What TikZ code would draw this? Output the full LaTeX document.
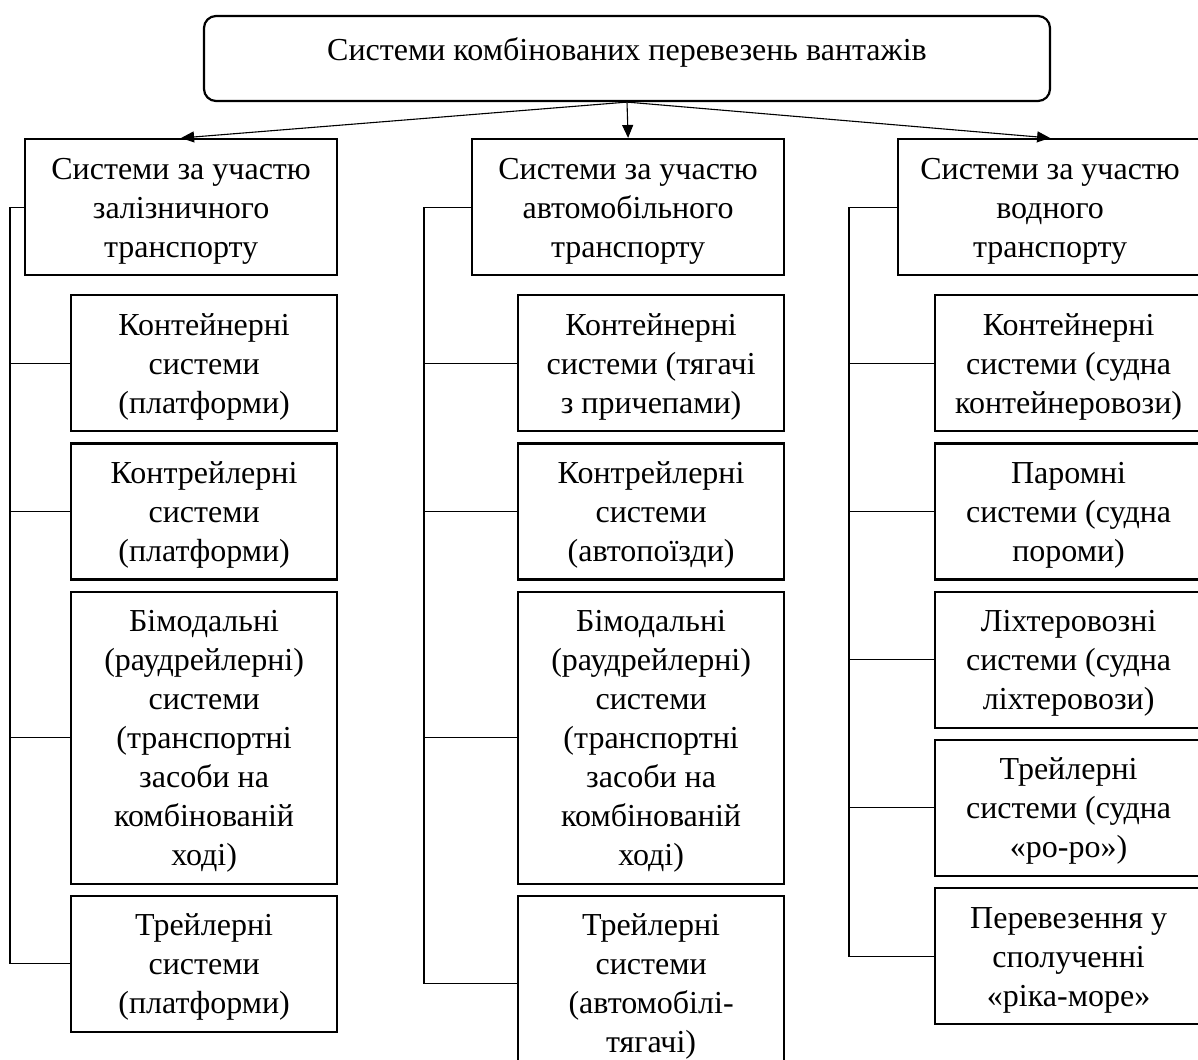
\documentclass[tikz,border=0pt]{standalone}
\usepackage{fontspec}
\setmainfont{Liberation Serif}
\usetikzlibrary{arrows.meta,positioning}
\newcommand\colstrut{\rule[-8.5pt]{0pt}{39pt}}

\begin{document}
\begin{tikzpicture}[
    x=1pt,
    y=-1pt,
    node distance=10pt,
    every node/.style={font=\fontsize{32}{39}\selectfont},
    topbox/.style={
        draw,
        line width=2.2pt,
        rounded corners=12pt,
        minimum width=846pt,
        inner ysep=0pt,
        text height=45pt,
        text depth=40pt
    },
    box/.style={
        draw,
        line width=2.2pt,
        align=flush center,
        inner xsep=4pt,
        inner ysep=9.5pt,
        execute at begin node=\colstrut,
        execute at end node=\colstrut
    },
    head/.style={
        box,
        minimum width=312pt,
        text width=304pt
    },
    sub/.style={
        box,
        minimum width=266pt,
        text width=258pt
    },
    arrow/.style={
        -{Triangle[length=13pt,width=11pt]},
        line width=1.1pt
    },
    link/.style={
        line width=1.1pt
    }
]
\useasboundingbox (0,0) rectangle (1198,1059);

% Top block
\node[topbox] (sys) at (627,58.5)
{Системи комбінованих перевезень вантажів};

% Column headers
\node[head, anchor=north west] (railh) at (24,138)
{Системи за участю\\залізничного\\транспорту};

\node[head, anchor=north west] (roadh) at (471,138)
{Системи за участю\\автомобільного\\транспорту};

\node[head, anchor=north west, minimum width=304pt, text width=296pt] (waterh) at (897,138)
{Системи за участю\\водного\\транспорту};

% Railway systems
\node[sub, below=18pt of railh.south east, anchor=north east] (rail1)
{Контейнерні\\системи\\(платформи)};

\node[sub, below=of rail1] (rail2)
{Контрейлерні\\системи\\(платформи)};

\node[sub, below=of rail2] (rail3)
{Бімодальні\\(раудрейлерні)\\системи\\(транспортні\\засоби на\\комбінованій\\ході)};

\node[sub, below=of rail3] (rail4)
{Трейлерні\\системи\\(платформи)};

% Road systems
\node[sub, below=18pt of roadh.south east, anchor=north east] (road1)
{Контейнерні\\системи (тягачі\\з причепами)};

\node[sub, below=of road1] (road2)
{Контрейлерні\\системи\\(автопоїзди)};

\node[sub, below=of road2] (road3)
{Бімодальні\\(раудрейлерні)\\системи\\(транспортні\\засоби на\\комбінованій\\ході)};

\node[sub, below=of road3] (road4)
{Трейлерні\\системи\\(автомобілі-\\тягачі)};

% Water systems
\node[sub, below=18pt of waterh.south east, anchor=north east, minimum width=267pt, text width=259pt] (water1)
{Контейнерні\\системи (судна\\контейнеровози)};

\node[sub, below=of water1, minimum width=267pt, text width=259pt] (water2)
{Паромні\\системи (судна\\пороми)};

\node[sub, below=of water2, minimum width=267pt, text width=259pt] (water3)
{Ліхтеровозні\\системи (судна\\ліхтеровози)};

\node[sub, below=of water3, minimum width=267pt, text width=259pt] (water4)
{Трейлерні\\системи (судна\\«ро-ро»)};

\node[sub, below=of water4, minimum width=267pt, text width=259pt] (water5)
{Перевезення у\\сполученні\\«ріка-море»};

% Arrows from the top block
\draw[arrow] (sys.south) -- (railh.north);
\draw[arrow] (sys.south) -- (roadh.north);
\draw[arrow] (sys.south) -- (waterh.north);

% Side rails
\coordinate (railbus) at (10,0);
\coordinate (roadbus) at (424,0);
\coordinate (waterbus) at (849,0);

\draw[link] (railh.west) -- (railh.west -| railbus) -- (rail4.west -| railbus) -- (rail4.west);
\foreach \k in {1,2,3}
  \draw[link] (rail\k.west -| railbus) -- (rail\k.west);

\draw[link] (roadh.west) -- (roadh.west -| roadbus) -- (road4.west -| roadbus) -- (road4.west);
\foreach \k in {1,2,3}
  \draw[link] (road\k.west -| roadbus) -- (road\k.west);

\draw[link] (waterh.west) -- (waterh.west -| waterbus) -- (water5.west -| waterbus) -- (water5.west);
\foreach \k in {1,2,3,4}
  \draw[link] (water\k.west -| waterbus) -- (water\k.west);

\end{tikzpicture}
\end{document}
